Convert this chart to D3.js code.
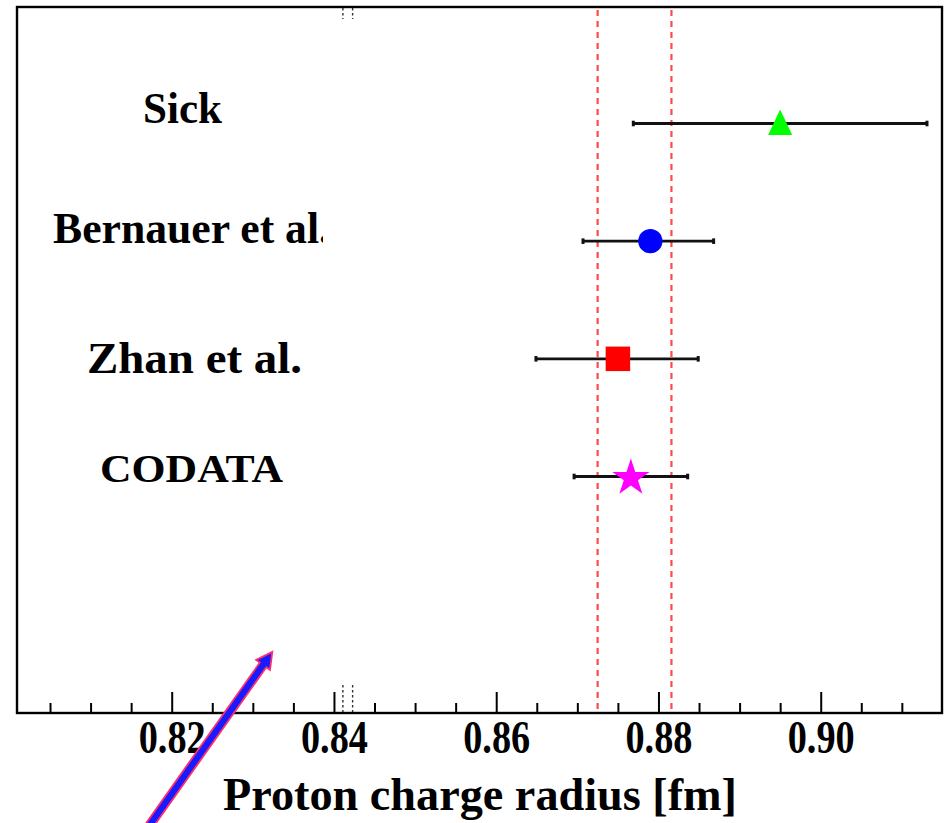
<!DOCTYPE html>
<html>
<head>
<meta charset="utf-8">
<script src="https://cdn.jsdelivr.net/npm/d3@7"></script>
<style>
  html, body { margin: 0; padding: 0; background: #fff; }
  svg { display: block; }
  text { font-family: "Liberation Serif", "Times New Roman", serif; font-weight: bold; fill: #000; }
</style>
</head>
<body>
<svg id="chart" width="944" height="823"></svg>
<script>
// ---------------- data ----------------
const categories = ["Sick", "Bernauer et al.", "Zhan et al.", "CODATA"];
const centralValues = [0.895, 0.879, 0.875, 0.8766];
const lowerValues = [0.8769, 0.8707, 0.8649, 0.8696];
const upperValues = [0.9131, 0.8868, 0.8849, 0.8836];
const bandValues = [0.8725, 0.8816];          // red dashed lines
const muonicValues = [0.8411, 0.8423];        // small dotted marks
const majorTicks = [0.82, 0.84, 0.86, 0.88, 0.90];
const tickLabels = ["0.82", "0.84", "0.86", "0.88", "0.90"];
const minorTicks = [0.805, 0.81, 0.815, 0.825, 0.83, 0.835, 0.845, 0.85, 0.855,
                    0.865, 0.87, 0.875, 0.885, 0.89, 0.895, 0.905, 0.91];
const xTitle = "Proton charge radius [fm]";
const xDomain = [0.80093, 0.91495];
// annotation arrow in data units (x value, row index)
const arrowX = [0.8170, 0.8324];
const arrowRow = [5.99, 4.49];

// ---------------- layout / style ----------------
const W = 944, H = 823;
const plotL = 17, plotR = 942, plotT = 7, plotB = 713;
const markerColors = ["#00ff00", "#0000ff", "#ff0000", "#ff00ff"];
const markerShapes = ["triangle", "circle", "square", "star"];
const labelLayout = [
  { x: 143, dy: -1,   size: 44, len: 79 },
  { x: 53,  dy: 1.5,  size: 45, len: 277 },
  { x: 87,  dy: 14.5, size: 45, len: 215 },
  { x: 100, dy: 5.5,  size: 41, len: 183 }
];

const svg = d3.select("#chart");

const x = d3.scaleLinear().domain(xDomain).range([plotL, plotR]);
const y = d3.scalePoint().domain(categories).range([123.5, 476.5]);
const yRow = d3.scaleLinear().domain([0, categories.length - 1]).range([123.5, 476.5]);

svg.append("defs").append("clipPath").attr("id", "labclip")
  .append("rect").attr("x", 0).attr("y", 0).attr("width", 323).attr("height", H);

// red dashed lines
svg.selectAll("line.band").data(bandValues).enter().append("line")
  .attr("class", "band")
  .attr("x1", d => x(d)).attr("x2", d => x(d))
  .attr("y1", plotT + 3).attr("y2", plotB)
  .attr("stroke", "#ff4a4a").attr("stroke-width", 2.2)
  .attr("stroke-dasharray", "6,5");

// muonic dotted marks at top and bottom
[[plotT + 1, plotT + 12], [plotB - 28, plotB]].forEach(([a, b]) => {
  svg.append("g").selectAll("line").data(muonicValues).enter().append("line")
    .attr("x1", d => x(d)).attr("x2", d => x(d))
    .attr("y1", a).attr("y2", b)
    .attr("stroke", "#333").attr("stroke-width", 1.4)
    .attr("stroke-dasharray", "2.5,2.5");
});

// axes (ticks pointing inward)
const minorAxis = d3.axisBottom(x).tickValues(minorTicks).tickSize(-10).tickFormat("");
const majorAxis = d3.axisBottom(x).tickValues(majorTicks).tickSize(-21)
  .tickFormat((d, i) => tickLabels[i]);

const gMinor = svg.append("g").attr("transform", `translate(0,${plotB})`).call(minorAxis);
gMinor.select(".domain").remove();
gMinor.selectAll("line").attr("stroke", "#000").attr("stroke-width", 2);

const gMajor = svg.append("g").attr("transform", `translate(0,${plotB})`).call(majorAxis);
gMajor.select(".domain").remove();
gMajor.selectAll("line").attr("stroke", "#000").attr("stroke-width", 2);
gMajor.selectAll("text")
  .attr("y", 40).attr("dy", 0)
  .attr("font-size", 46)
  .attr("textLength", 67).attr("lengthAdjust", "spacingAndGlyphs")
  .style("font-family", "'Liberation Serif', 'Times New Roman', serif")
  .style("font-weight", "bold")
  .attr("fill", "#000");

// frame
svg.append("rect")
  .attr("x", plotL).attr("y", plotT)
  .attr("width", plotR - plotL).attr("height", plotB - plotT)
  .attr("fill", "none").attr("stroke", "#000").attr("stroke-width", 2.4);

// error bars
const rows = categories.map((c, i) => ({ c, i, v: centralValues[i], lo: lowerValues[i], hi: upperValues[i] }));
const gBars = svg.append("g");
gBars.selectAll("line.err").data(rows).enter().append("line")
  .attr("x1", d => x(d.lo)).attr("x2", d => x(d.hi))
  .attr("y1", d => y(d.c)).attr("y2", d => y(d.c))
  .attr("stroke", "#111").attr("stroke-width", 2.8);
["lo", "hi"].forEach(k => {
  gBars.selectAll("line.cap" + k).data(rows).enter().append("line")
    .attr("x1", d => x(d[k])).attr("x2", d => x(d[k]))
    .attr("y1", d => y(d.c) - 2.8).attr("y2", d => y(d.c) + 2.8)
    .attr("stroke", "#111").attr("stroke-width", 3);
});

// markers
const tallTriangle = {
  draw(ctx, size) {
    const w = Math.sqrt(size), h = w * 1.05;
    ctx.moveTo(0, -h * 0.55);
    ctx.lineTo(w / 2, h * 0.45);
    ctx.lineTo(-w / 2, h * 0.45);
    ctx.closePath();
  }
};
const symSize = { triangle: 580, circle: 460, square: 600, star: 430 };
const symType = { triangle: tallTriangle, circle: d3.symbolCircle, square: d3.symbolSquare, star: d3.symbolStar };
svg.append("g").selectAll("path").data(rows).enter().append("path")
  .attr("transform", d => {
    const s = markerShapes[d.i];
    const dy = s === "star" ? 1.5 : 0;
    return `translate(${x(d.v)},${y(d.c) + dy})`;
  })
  .attr("d", d => d3.symbol().type(symType[markerShapes[d.i]]).size(symSize[markerShapes[d.i]])())
  .attr("fill", d => markerColors[d.i]);

// labels
svg.append("g").attr("clip-path", "url(#labclip)")
  .selectAll("text").data(rows).enter().append("text")
  .attr("x", d => labelLayout[d.i].x)
  .attr("y", d => y(d.c) + labelLayout[d.i].dy)
  .attr("font-size", d => labelLayout[d.i].size)
  .attr("textLength", d => labelLayout[d.i].len)
  .attr("lengthAdjust", "spacingAndGlyphs")
  .text(d => d.c);

// axis title
svg.append("text")
  .attr("x", 223).attr("y", 810)
  .attr("font-size", 47)
  .attr("textLength", 514).attr("lengthAdjust", "spacingAndGlyphs")
  .text(xTitle);

// annotation arrow (blue with pink outline)
(function () {
  const x0 = x(arrowX[0]), y0 = yRow(arrowRow[0]);
  const x1 = x(arrowX[1]), y1 = yRow(arrowRow[1]);
  const dx = x1 - x0, dy = y1 - y0, L = Math.hypot(dx, dy);
  const ux = dx / L, uy = dy / L, nx = -uy, ny = ux;
  const sw = 4, hw = 8.5, hl = 16;
  const bx = x1 - ux * hl, by = y1 - uy * hl;
  const pts = [
    [x0 + nx * sw, y0 + ny * sw],
    [bx + nx * sw, by + ny * sw],
    [bx + nx * hw, by + ny * hw],
    [x1, y1],
    [bx - nx * hw, by - ny * hw],
    [bx - nx * sw, by - ny * sw],
    [x0 - nx * sw, y0 - ny * sw]
  ];
  svg.append("path")
    .attr("d", d3.line()(pts) + "Z")
    .attr("fill", "#1a1aff").attr("stroke", "#ff2f6e").attr("stroke-width", 1.8)
    .attr("stroke-linejoin", "miter");
})();
</script>
</body>
</html>
